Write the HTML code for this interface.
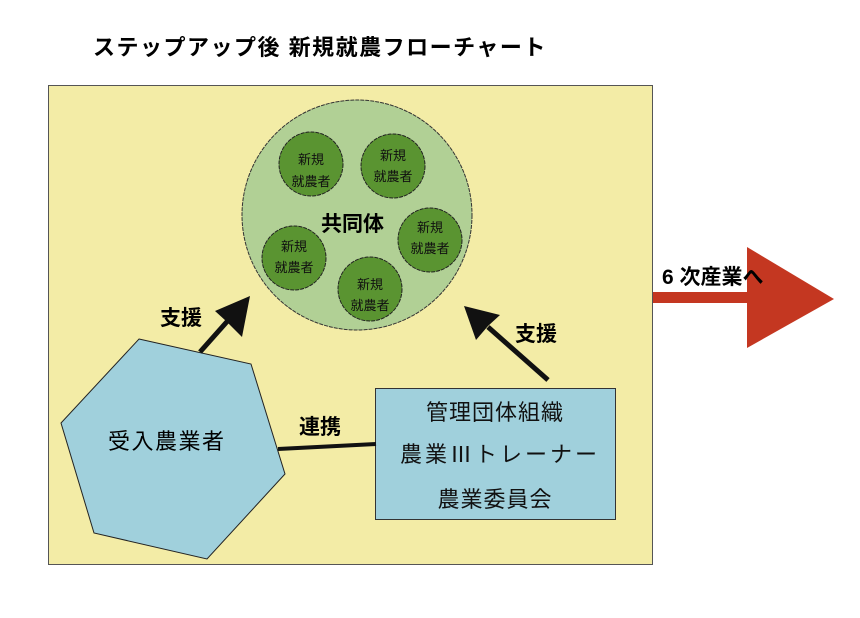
<!DOCTYPE html>
<html><head><meta charset="utf-8"><style>
body{margin:0;background:#fff;width:860px;height:613px;overflow:hidden}
svg text{font-family:"Liberation Sans","Noto Sans CJK JP",sans-serif}
</style></head><body>
<svg width="860" height="613" viewBox="0 0 860 613" xmlns="http://www.w3.org/2000/svg">
<text x="93" y="55" font-size="22" font-weight="bold" fill="#000" letter-spacing="1.5">ステップアップ後 新規就農フローチャート</text>
<rect x="48.5" y="85.5" width="604" height="479" fill="#f3eca6" stroke="#555" stroke-width="1"/>
<circle cx="357" cy="215" r="115" fill="#b1d095" stroke="#333" stroke-width="1" stroke-dasharray="4,1"/>
<g fill="#5a9431" stroke="#222" stroke-width="1" stroke-dasharray="4,1">
<circle cx="311" cy="164" r="32"/><circle cx="393" cy="166" r="32"/><circle cx="430" cy="240" r="32"/><circle cx="294" cy="258" r="32"/><circle cx="370" cy="289" r="32"/>
</g>
<g font-size="13" fill="#111" text-anchor="middle">
<text x="311" y="164">新規</text><text x="311" y="186">就農者</text>
<text x="393" y="160">新規</text><text x="393" y="181">就農者</text>
<text x="430" y="232">新規</text><text x="430" y="253">就農者</text>
<text x="294" y="251">新規</text><text x="294" y="272">就農者</text>
<text x="370" y="289">新規</text><text x="370" y="310">就農者</text>
</g>
<text x="321" y="231" font-size="21" font-weight="bold">共同体</text>
<polygon points="139,339 251,364 285,474 207,559 94,533 61,423" fill="#a0d0dc" stroke="#222" stroke-width="1"/>
<text x="108" y="449" font-size="22" letter-spacing="1.5">受入農業者</text>
<rect x="375.5" y="388.5" width="240" height="131" fill="#a0d0dc" stroke="#333" stroke-width="1"/>
<g font-size="22" text-anchor="middle" fill="#111">
<text x="495" y="420" letter-spacing="1">管理団体組織</text>
<text x="500" y="462" letter-spacing="3">農業Ⅲトレーナー</text>
<text x="495" y="507" letter-spacing="1">農業委員会</text>
</g>
<line x1="278" y1="449" x2="376" y2="444" stroke="#111" stroke-width="4"/>
<text x="299" y="434" font-size="21" font-weight="bold">連携</text>
<line x1="200" y1="352" x2="232" y2="316" stroke="#111" stroke-width="5"/>
<polygon points="250,296 242,337 226,321 215,311" fill="#111"/>
<text x="160" y="325" font-size="21" font-weight="bold">支援</text>
<line x1="548" y1="380" x2="488" y2="327" stroke="#111" stroke-width="5"/>
<polygon points="464,306 476,340 488,326 500,315" fill="#111"/>
<text x="515" y="341" font-size="21" font-weight="bold">支援</text>
<rect x="653" y="292" width="96" height="11" fill="#c43721"/>
<polygon points="747,247 834,299 747,348" fill="#c43721"/>
<rect x="653" y="255" width="94" height="37" fill="#fff"/>
<text x="662" y="284" font-size="21" font-weight="bold">6 次産業へ</text>
</svg>
</body></html>
